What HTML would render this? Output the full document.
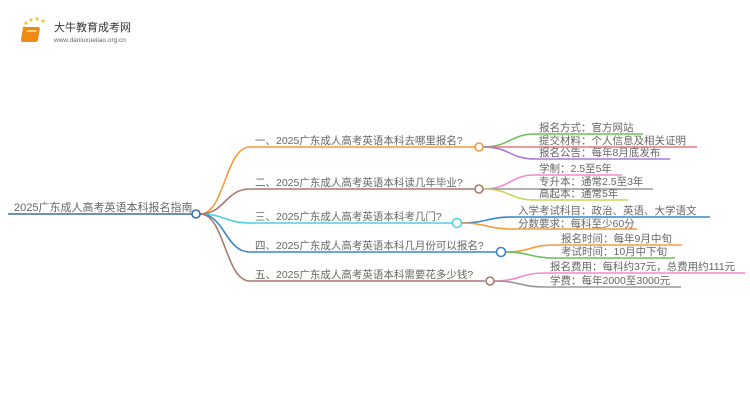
<!DOCTYPE html>
<html><head><meta charset="utf-8"><style>
html,body{margin:0;padding:0;background:#fff;}
svg{display:block}
text{font-family:"Liberation Sans","Noto Sans CJK SC",sans-serif;font-size:10.5px;fill:#666;}
</style></head><body>
<svg width="750" height="410" viewBox="0 0 750 410" xmlns="http://www.w3.org/2000/svg">
<!-- logo -->
<g>
<circle cx="24" cy="28" r="1.6" fill="#f6c342"/><circle cx="26" cy="23" r="1.6" fill="#f6c342"/><circle cx="31" cy="20" r="1.6" fill="#f6c342"/><circle cx="37" cy="19" r="1.6" fill="#f6c342"/><circle cx="43" cy="21" r="1.6" fill="#f6c342"/><circle cx="23" cy="34" r="1.4" fill="#f6c342"/><circle cx="24" cy="40" r="1.3" fill="#f6c342"/>
<rect x="28" y="27" width="17" height="15" rx="2" fill="#ef8a14" transform="skewX(-10)"/>
<rect x="32" y="30" width="10" height="2" fill="#ffd27a" transform="skewX(-10)"/>
<text x="54" y="31" style="font-size:11px;fill:#333">大牛教育成考网</text>
<text x="54" y="42" style="font-size:6.5px;fill:#666">www.daniuxueiiao.org.cn</text>
</g>
<g fill="none" stroke-width="1.6">
<!-- root -->
<path d="M8 214 H192" stroke="#3a6fa8"/>
<!-- main branches -->
<path d="M200 214 C225 214 225 147 250 147 H475" stroke="#f79a3c"/>
<path d="M200 214 C225 214 225 189 250 189 H475" stroke="#a97a6e"/>
<path d="M200 214 C225 214 225 223 250 223 H452" stroke="#4fd0e0"/>
<path d="M200 214 C225 214 225 252 250 252 H496" stroke="#3a87c8"/>
<path d="M200 214 C225 214 225 281 250 281 H485" stroke="#a97a6e"/>
<!-- leaves 1 -->
<path d="M483 147 C510 147 510 134 535 134 H643" stroke="#6cc05a"/>
<path d="M483 147 H697" stroke="#e57a7a"/>
<path d="M483 147 C510 147 510 159 535 159 H670" stroke="#a77ad6"/>
<!-- leaves 2 -->
<path d="M483 189 C510 189 510 175 535 175 H622" stroke="#f08ad0"/>
<path d="M483 189 H653" stroke="#999"/>
<path d="M483 189 C510 189 510 200 535 200 H628" stroke="#cdd35a"/>
<!-- leaves 3 -->
<path d="M461 223 C487 223 487 217 513 217 H710" stroke="#3a87c8"/>
<path d="M461 223 C487 223 487 229 513 229 H637" stroke="#f79a3c"/>
<!-- leaves 4 -->
<path d="M505 252 C530 252 530 245 555 245 H682" stroke="#f79a3c"/>
<path d="M505 252 C530 252 530 258 555 258 H675" stroke="#6cc05a"/>
<!-- leaves 5 -->
<path d="M494 281 C520 281 520 273 545 273 H745" stroke="#f08ad0"/>
<path d="M494 281 C520 281 520 287 545 287 H681" stroke="#999"/>
</g>
<g fill="#fff" stroke-width="1.6">
<circle cx="196" cy="214" r="4" stroke="#3a6fa8"/>
<circle cx="479" cy="147" r="4" stroke="#f79a3c"/>
<circle cx="479" cy="189" r="4" stroke="#a97a6e"/>
<circle cx="457" cy="223" r="4.5" stroke="#4fd0e0"/>
<circle cx="501" cy="252" r="4.5" stroke="#3a87c8"/>
<circle cx="490" cy="281" r="4" stroke="#a97a6e"/>
</g>
<text x="14" y="211" style="font-size:11px">2025广东成人高考英语本科报名指南</text>
<text x="255" y="144">一、2025广东成人高考英语本科去哪里报名?</text>
<text x="255" y="186">二、2025广东成人高考英语本科读几年毕业?</text>
<text x="255" y="220">三、2025广东成人高考英语本科考几门?</text>
<text x="255" y="249">四、2025广东成人高考英语本科几月份可以报名?</text>
<text x="255" y="278">五、2025广东成人高考英语本科需要花多少钱?</text>
<text x="539" y="131">报名方式：官方网站</text>
<text x="539" y="144">提交材料：个人信息及相关证明</text>
<text x="539" y="156">报名公告：每年8月底发布</text>
<text x="539" y="172">学制：2.5至5年</text>
<text x="539" y="185">专升本：通常2.5至3年</text>
<text x="539" y="197">高起本：通常5年</text>
<text x="518" y="214">入学考试科目：政治、英语、大学语文</text>
<text x="518" y="227">分数要求：每科至少60分</text>
<text x="561" y="242">报名时间：每年9月中旬</text>
<text x="561" y="255">考试时间：10月中下旬</text>
<text x="550" y="270">报名费用：每科约37元，总费用约111元</text>
<text x="550" y="284">学费：每年2000至3000元</text>
</svg>
</body></html>
